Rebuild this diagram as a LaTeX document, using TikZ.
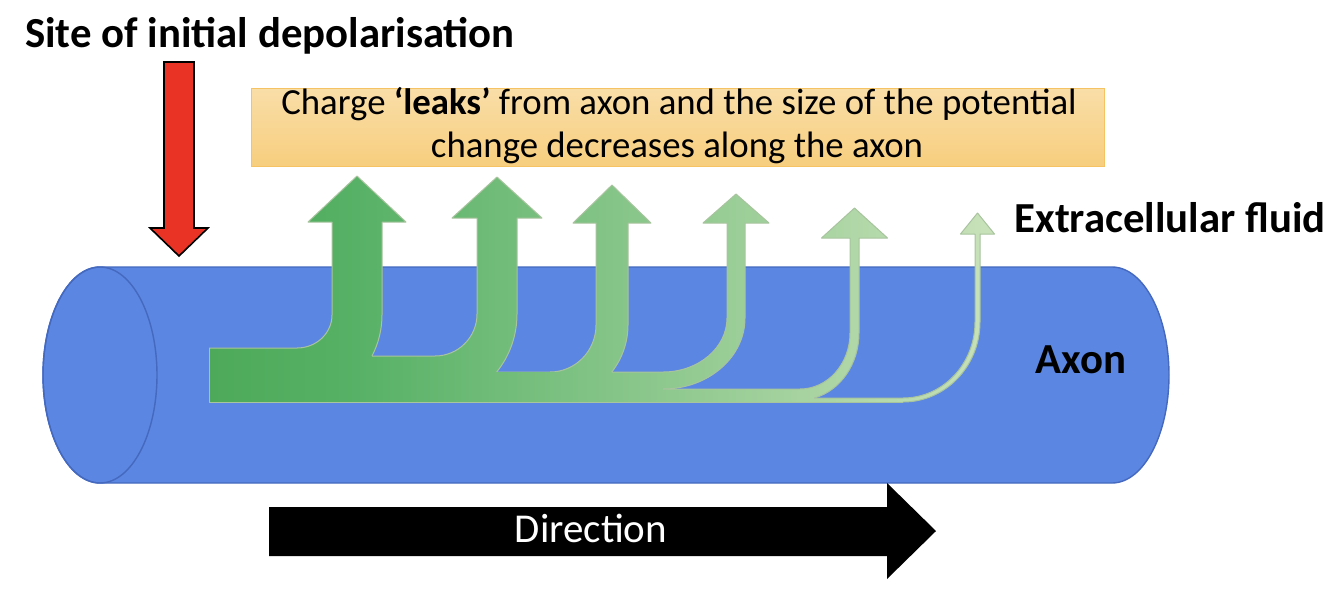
\documentclass[tikz,border=0pt]{standalone}
\usepackage{fontspec}
\setmainfont{Carlito}
\definecolor{axfill}{RGB}{91,134,225}
\definecolor{axline}{RGB}{68,105,190}
\definecolor{gA}{RGB}{78,170,90}
\definecolor{gB}{RGB}{87,177,102}
\definecolor{gC}{RGB}{202,226,186}
\definecolor{gline}{RGB}{168,196,158}
\definecolor{redA}{RGB}{233,52,37}
\definecolor{boxT}{RGB}{249,222,168}
\definecolor{boxB}{RGB}{247,206,126}
\definecolor{boxL}{RGB}{245,195,100}
\newcommand\setarrow[9]{\def\At{#1}\def\Ab{#2}\def\Acx{#3}\def\Acy{#4}\def\Axl{#5}\def\Axr{#6}\def\Ahb{#7}\def\Ahw{#8}\def\Aty{#9}}
\newcommand\arrowfillpath{(209,\At) -- (\Acx,\At) arc[start angle=90,end angle=0,x radius={\Axl-\Acx},y radius={\At-\Acy}] -- (\Axl,\Ahb) -- ({(\Axl+\Axr)/2-\Ahw},\Ahb) -- ({(\Axl+\Axr)/2},\Aty) -- ({(\Axl+\Axr)/2+\Ahw},\Ahb) -- (\Axr,\Ahb) -- (\Axr,\Acy) arc[start angle=0,end angle=90,x radius={\Axr-\Acx},y radius={\Ab-\Acy}] -- (209,\Ab) -- cycle}
\newcommand\fillarrow{\begin{scope}\clip \arrowfillpath;
  \shade[left color=gA,right color=gB] (209,160) rectangle (357.5,410);
  \shade[left color=gB,right color=gC] (357,160) rectangle (1000,410);
\end{scope}}
\newcommand\arrowstroke[2]{\draw[gstroke] (#1,\At) -- (\Acx,\At) arc[start angle=90,end angle=0,x radius={\Axl-\Acx},y radius={\At-\Acy}] -- (\Axl,\Ahb) -- ({(\Axl+\Axr)/2-\Ahw},\Ahb) -- ({(\Axl+\Axr)/2},\Aty) -- ({(\Axl+\Axr)/2+\Ahw},\Ahb) -- (\Axr,\Ahb) -- (\Axr,\Acy) arc[start angle=0,end angle={#2},x radius={\Axr-\Acx},y radius={\Ab-\Acy}];}
\begin{document}
\begin{tikzpicture}[x=0.5pt,y=-0.5pt,
  gstroke/.style={draw=gline,line width=0.5pt,line join=round},
  boldlbl/.style={font=\bfseries\fontsize{21.4}{25}\selectfont,inner sep=0pt},
  reglbl/.style={font=\fontsize{18.4}{22}\selectfont,inner sep=0pt}]
\useasboundingbox (0,0) rectangle (1334,591);
% axon cylinder
\path[fill=axfill,draw=axline,line width=0.7pt] (100,267) -- (1112,267)
  arc[start angle=-90,end angle=90,x radius=57,y radius=108] -- (100,483)
  arc[start angle=90,end angle=270,x radius=57,y radius=108] -- cycle;
\draw[axline,line width=0.7pt] (100,375) ellipse[x radius=57,y radius=108];
% orange box
\shade[top color=boxT,bottom color=boxB,draw=boxL,line width=0.5pt] (251,88) rectangle (1104,166);
\node[reglbl,anchor=base] (l1) at (679,114) {Charge \textbf{‘leaks’} from axon and the size of the potential};
\node[reglbl,anchor=base] (l2) at (677,157) {change decreases along the axon};
% red arrow
\draw[fill=redA,line width=0.8pt,line join=miter] (164,62) -- (194,62) -- (194,228) -- (208,228) -- (179,256) -- (150,228) -- (164,228) -- cycle;
% green arrows
\setarrow{348}{402}{297}{315}{332}{382}{222}{49}{176}
\fillarrow \arrowstroke{209}{{asin((356-315)/87)}}
\setarrow{356}{402}{435}{314}{477}{517}{218}{45}{177}
\fillarrow \arrowstroke{372}{{asin((372-314)/88)}}
\setarrow{372}{402}{550}{325}{596}{628}{223}{39}{185}
\fillarrow \arrowstroke{496.7}{{asin((372-325)/77)}}
\setarrow{372}{389}{663}{318}{727}{745}{223}{33}{194}
\fillarrow \arrowstroke{611.8}{90}
\setarrow{389}{400}{800}{333}{850}{859}{238}{33}{208}
\fillarrow \arrowstroke{663}{{asin((398-333)/67)}}
\setarrow{398}{402}{903}{322}{975}{980}{234}{17}{213}
\fillarrow \arrowstroke{814}{90}
\draw[gstroke] (903,402) -- (209,402) -- (209,348);
% labels
\node[boldlbl,anchor=base] (title) at (270,47) {Site of initial depolarisation};
\node[boldlbl,anchor=base] (ecf) at (1170,232) {Extracellular fluid};
\node[boldlbl,anchor=base] (axon) at (1081,373) {Axon};
% direction arrow
\fill[black] (269,507) -- (887,507) -- (887,483) -- (936,531) -- (887,579) -- (887,556) -- (269,556) -- cycle;
\node[reglbl,font=\fontsize{20.5}{24}\selectfont,text=white,anchor=base] (dir) at (591,542) {Direction};
\end{tikzpicture}
\end{document}
